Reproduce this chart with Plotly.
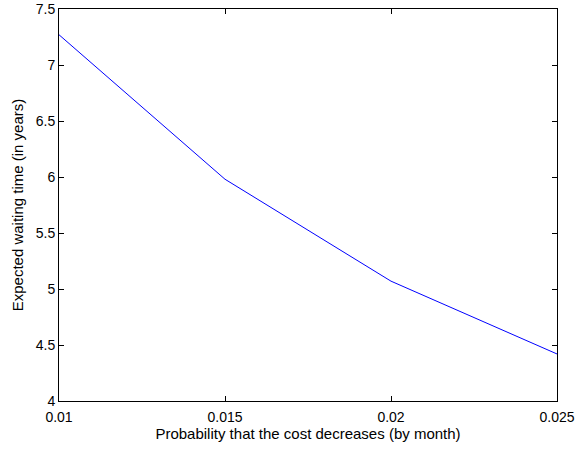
import plotly.graph_objects as go

prob = [0.01, 0.015, 0.02, 0.025]
wait_years = [7.27, 5.98, 5.07, 4.42]
x_ticks = [0.01, 0.015, 0.02, 0.025]
x_tick_labels = ["0.01", "0.015", "0.02", "0.025"]
y_ticks = [4, 4.5, 5, 5.5, 6, 6.5, 7, 7.5]
y_tick_labels = ["4", "4.5", "5", "5.5", "6", "6.5", "7", "7.5"]

fig = go.Figure()
fig.add_trace(go.Scatter(x=prob, y=wait_years, mode="lines",
                         line=dict(color="#0000ff", width=1), showlegend=False))

font = dict(family="Liberation Sans, Arial, sans-serif", size=14, color="black")
fig.update_layout(
    width=576, height=449,
    margin=dict(l=59, r=19, t=9, b=48),
    paper_bgcolor="white", plot_bgcolor="white",
    font=font,
    xaxis=dict(range=[0.01, 0.025], tickvals=x_ticks, ticktext=x_tick_labels,
               ticks="inside", ticklen=5, tickcolor="black", tickwidth=1,
               showline=True, linecolor="black", linewidth=1, mirror="ticks",
               showgrid=False, zeroline=False, automargin=False,
               ticklabelstandoff=3,
               title=dict(text="Probability that the cost decreases (by month)", standoff=2,
                          font=dict(size=15)),
               tickfont=dict(size=14)),
    yaxis=dict(range=[4, 7.5], tickvals=y_ticks, ticktext=y_tick_labels,
               ticks="inside", ticklen=5, tickcolor="black", tickwidth=1,
               showline=True, linecolor="black", linewidth=1, mirror="ticks",
               showgrid=False, zeroline=False, automargin=False,
               title=dict(text="Expected waiting time (in years)", standoff=8,
                          font=dict(size=15)),
               tickfont=dict(size=14)),
)
fig.write_html("out.html")
